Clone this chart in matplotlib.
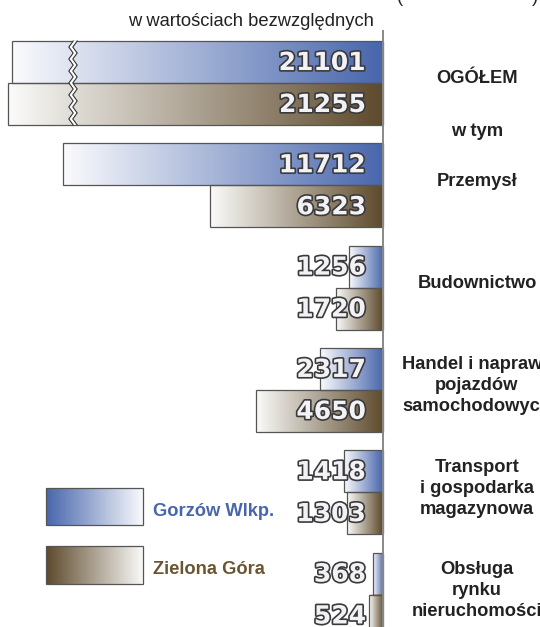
import numpy as np
import matplotlib
matplotlib.use("Agg")
import matplotlib.pyplot as plt
import matplotlib.patheffects as pe
from matplotlib.colors import LinearSegmentedColormap
from matplotlib.patches import Rectangle, Polygon

# data
categories = ["OGÓŁEM", "Przemysł", "Budownictwo",
              "Handel i naprawa\npojazdów\nsamochodowych",
              "Transport\ni gospodarka\nmagazynowa",
              "Obsługa\nrynku\nnieruchomości"]
gorzow = [21101, 11712, 1256, 2317, 1418, 368]
zielona = [21255, 6323, 1720, 4650, 1303, 524]
series_names = ["Gorzów Wlkp.", "Zielona Góra"]
header = "w wartościach bezwzględnych"

# first group is drawn with a broken axis
BREAK = 7540

BLUE = "#4866ac"
BROWN = "#5e4a2c"
EDGE = "#555555"

cmap_blue = LinearSegmentedColormap.from_list("b", ["#fbfbfd", BLUE])
cmap_brown = LinearSegmentedColormap.from_list("z", ["#fbfbfa", BROWN])
grad = np.linspace(0, 1, 256).reshape(1, -1)

# layout: pixel geometry of the 540x627 figure
U = 36.6          # value units per pixel
AX_PX = 383       # pixel x of the zero line
PITCH = 102.3     # pixels between groups
Y0 = 83           # pixel y of first group centre
BAR_H = 0.41
FS = 13.2


def px_x(p):
    return (AX_PX - p) * U


def px_y(p):
    return (p - Y0) / PITCH


fig = plt.figure(figsize=(5.4, 6.27), dpi=100)
ax = fig.add_axes([0, 0, 1, 1])
ax.axis("off")
plt.rcParams["font.family"] = ["Liberation Sans", "DejaVu Sans"]


def gradient_bar(v, yc, cmap):
    top, bot = yc - BAR_H / 2, yc + BAR_H / 2
    ax.imshow(grad, cmap=cmap, extent=[v, 0, bot, top], aspect="auto",
              interpolation="bicubic", zorder=2)
    ax.add_patch(Rectangle((0, top), v, BAR_H, fill=False, ec=EDGE,
                           lw=0.9, zorder=3))


def value_label(v, yc):
    ax.text(px_x(AX_PX - 17), yc + 0.01, f"{v}", ha="right", va="center",
            fontsize=18, weight="bold", family="DejaVu Sans",
            color="#f2f2f6", zorder=5,
            path_effects=[pe.Stroke(linewidth=2.4, foreground="#3a3a3a"),
                          pe.Normal()])


for i, (g, z) in enumerate(zip(gorzow, zielona)):
    gd, zd = (g - BREAK, z - BREAK) if i == 0 else (g, z)
    gradient_bar(gd, i - BAR_H / 2, cmap_blue)
    gradient_bar(zd, i + BAR_H / 2, cmap_brown)
    value_label(g, i - BAR_H / 2)
    value_label(z, i + BAR_H / 2)
    ax.text(px_x(477), i - 0.04, categories[i], ha="center", va="center",
            fontsize=FS, weight="bold", color="#222222", linespacing=1.3)

ax.text(px_x(477), px_y(132), "w tym", ha="center", va="center",
        fontsize=FS, weight="bold", color="#222222")

# zigzag break across the first group
zx = px_x(73)
ys = np.linspace(-BAR_H, BAR_H, 15)
amp = 2.2 * U
off = np.where(np.arange(len(ys)) % 2 == 0, -amp, amp)
left = np.column_stack([zx + 2 * U + off, ys])
right = np.column_stack([zx - 2 * U + off, ys])
ax.add_patch(Polygon(np.vstack([left, right[::-1]]), closed=True,
                     fc="white", ec="none", zorder=4))
ax.plot(left[:, 0], left[:, 1], color="#333333", lw=0.8, zorder=4)
ax.plot(right[:, 0], right[:, 1], color="#333333", lw=0.8, zorder=4)

# zero line
ax.plot([0, 0], [px_y(31), px_y(640)], color="#888888", lw=1.4, zorder=6)

# header
ax.text(px_x(374), px_y(21), header, ha="right", va="center",
        fontsize=FS, color="#222222")
ax.text(px_x(400), px_y(2), "(", ha="center", va="baseline",
        fontsize=FS, color="#222222")
ax.text(px_x(535), px_y(2), ")", ha="center", va="baseline",
        fontsize=FS, color="#222222")

# legend
leg = [(488, 525, cmap_blue, BLUE, 511), (546, 584, cmap_brown, "#6b5531", 569)]
for (t, b, cm, col, ty), name in zip(leg, series_names):
    ax.imshow(grad[:, ::-1], cmap=cm, extent=[px_x(46), px_x(143), px_y(b), px_y(t)],
              aspect="auto", interpolation="bicubic", zorder=2)
    ax.add_patch(Rectangle((px_x(46), px_y(t)), px_x(143) - px_x(46),
                           px_y(b) - px_y(t), fill=False, ec=EDGE, lw=0.9, zorder=3))
    ax.text(px_x(153), px_y(ty), name, ha="left", va="center",
            fontsize=FS, weight="bold", color=col)

ax.set_xlim(px_x(0), px_x(540))
ax.set_ylim(px_y(627), px_y(0))

fig.savefig("out.png", dpi=100)
